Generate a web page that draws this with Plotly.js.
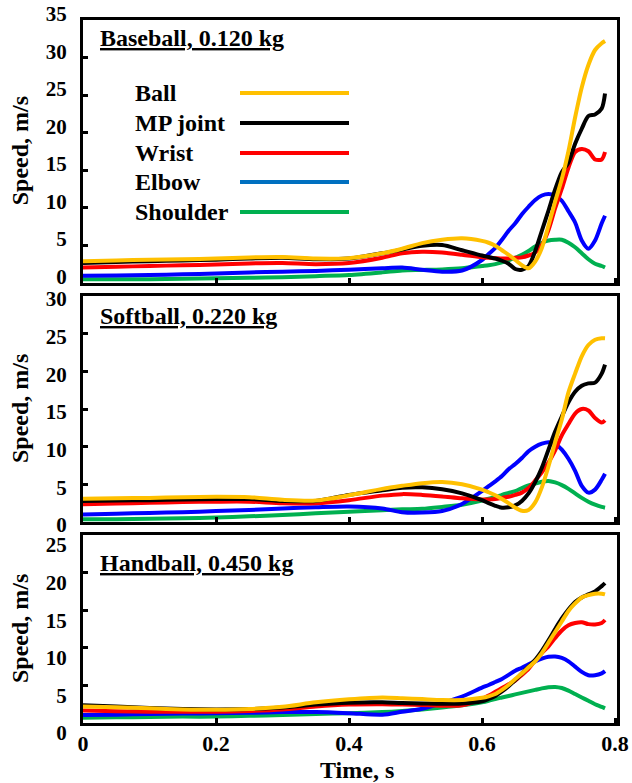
<!DOCTYPE html>
<html>
<head>
<meta charset="utf-8">
<script src="https://cdn.plot.ly/plotly-3.0.1.min.js"></script>
<style>html,body{margin:0;padding:0;background:#fff;}#chart{width:632px;height:783px;}</style>
</head>
<body>
<div id="chart"></div>
<script>
// ---- DATA ----
const time = [0,0.05,0.1,0.15,0.2,0.25,0.3,0.35,0.4,0.45,0.48,0.51,0.54,0.57,0.6,0.61,0.62,0.63,0.64,0.65,0.66,0.67,0.68,0.69,0.7,0.71,0.72,0.73,0.74,0.75,0.76,0.77,0.78,0.785];
const seriesNames = ["Ball","MP joint","Wrist","Elbow","Shoulder"];
const panelTitles = ["Baseball, 0.120 kg","Softball, 0.220 kg","Handball, 0.450 kg"];

// Baseball
const baseBall     = [2.85,2.95,3.05,3.1,3.2,3.35,3.4,3.2,3.25,3.9,4.5,5.25,5.7,5.9, 5.55,5.3,4.9,4.3,3.7,3.0,2.3,1.9,2.8,4.6,7.6,10.8,13.8,17.5,22.0,26.0,29.0,31.0,31.9,32.2];
const baseMP       = [2.6,2.75,2.85,2.95,3.05,3.2,3.3,3.1,3.2,3.9,4.4,4.9,5.0,4.3, 3.6,3.4,3.2,2.9,2.5,1.8,1.7,2.2,4.2,6.9,9.6,12.4,14.7,16.0,18.5,20.5,22.2,22.4,23.2,25.2];
const baseWrist    = [2.0,2.1,2.2,2.3,2.4,2.55,2.6,2.45,2.6,3.3,3.9,4.1,4.0,3.7, 3.35,3.3,3.25,3.2,3.2,3.3,3.35,3.6,4.0,5.0,7.0,9.9,12.5,15.3,17.4,17.8,17.5,16.4,16.4,17.4];
const baseElbow    = [0.9,0.95,1.0,1.1,1.2,1.35,1.45,1.55,1.7,1.9,2.0,1.7,1.45,1.6, 3.0,3.8,4.6,5.7,6.9,7.9,9.1,10.1,11.0,11.6,11.8,11.6,10.9,9.5,8.0,5.6,4.5,5.6,7.9,8.9];
const baseShoulder = [0.42,0.42,0.45,0.5,0.56,0.62,0.7,0.85,1.0,1.35,1.6,1.67,1.75,1.9, 2.2,2.3,2.45,2.7,2.95,3.3,3.7,4.2,4.8,5.3,5.6,5.7,5.7,5.3,4.7,3.9,3.1,2.5,2.2,2.0];

// Softball
const softBall     = [3.1,3.15,3.2,3.3,3.35,3.3,2.95,2.85,3.55,4.4,4.8,5.15,5.3,5.0, 4.3,3.95,3.55,3.05,2.5,1.9,1.5,1.6,2.6,4.6,7.4,10.6,13.6,17.2,19.7,22.0,23.5,24.2,24.4,24.4];
const softMP       = [2.8,2.85,2.9,3.0,3.05,3.05,2.8,2.8,3.6,4.2,4.55,4.6,4.35,3.8, 2.9,2.5,2.15,1.9,1.95,2.2,2.8,3.8,5.3,7.2,9.6,12.0,14.0,15.9,17.3,18.1,18.4,18.5,19.7,20.9];
const softWrist    = [2.35,2.45,2.55,2.65,2.7,2.7,2.5,2.5,2.9,3.5,3.7,3.6,3.4,3.15, 3.0,3.0,3.05,3.2,3.35,3.6,3.9,4.5,5.5,6.6,7.9,9.5,11.5,13.0,14.4,15.0,14.8,13.8,13.2,13.5];
const softElbow    = [1.0,1.1,1.2,1.3,1.45,1.6,1.8,1.95,2.05,1.8,1.3,1.25,1.45,2.4, 4.1,4.75,5.4,6.1,7.0,7.7,8.5,9.4,10.0,10.4,10.6,10.4,9.6,8.4,6.8,4.8,3.9,4.3,5.6,6.4];
const softShoulder = [0.35,0.38,0.42,0.5,0.6,0.75,0.93,1.15,1.37,1.55,1.68,1.75,2.0,2.3, 2.85,3.1,3.3,3.6,3.85,4.1,4.5,4.85,5.1,5.35,5.45,5.25,4.9,4.4,3.8,3.2,2.7,2.3,2.0,1.9];

// Handball
const handBall     = [2.2,2.1,1.95,1.8,1.75,1.85,2.15,2.75,3.15,3.4,3.3,3.18,3.06,3.06, 3.35,3.55,3.85,4.4,5.05,5.85,6.6,7.4,8.2,9.3,10.7,12.1,13.5,14.9,15.9,16.7,17.0,17.2,17.2,17.1];
const handMP       = [2.35,2.2,2.0,1.85,1.8,1.85,2.05,2.45,2.7,2.75,2.65,2.6,2.55,2.6, 2.9,3.2,3.6,4.2,4.9,5.7,6.6,7.5,8.4,9.6,11.0,12.5,13.9,15.1,16.1,16.7,17.1,17.5,18.2,18.6];
const handWrist    = [1.65,1.55,1.5,1.5,1.5,1.6,1.8,2.2,2.45,2.5,2.45,2.4,2.3,2.35, 3.2,3.65,4.15,4.65,5.15,5.65,6.4,7.2,8.3,9.3,10.2,11.3,12.3,13.0,13.3,13.4,13.15,13.1,13.3,13.7];
const handElbow    = [1.05,1.1,1.2,1.25,1.3,1.35,1.45,1.45,1.3,1.1,1.5,1.9,2.65,3.5, 4.7,5.05,5.45,5.85,6.4,6.95,7.35,7.8,8.2,8.55,8.8,8.85,8.65,8.2,7.5,6.8,6.35,6.35,6.6,6.9];
const handShoulder = [0.7,0.75,0.8,0.85,0.85,0.95,1.05,1.2,1.3,1.45,1.6,1.8,2.05,2.35, 2.75,2.95,3.2,3.4,3.6,3.8,4.0,4.2,4.4,4.6,4.75,4.8,4.65,4.3,3.85,3.4,2.95,2.5,2.15,1.95];

const yMax = [35, 30, 25];
const xTickVals = [0, 0.2, 0.4, 0.6, 0.8];

// ---- STYLE ----
const lineColors = ["#FFC000","#000000","#FF0000","#0000FF","#00B050"];
const legendColors = ["#FFC000","#000000","#FF0000","#0070C0","#00B050"];
const FONT = "Liberation Serif, Times New Roman, serif";

const panels = [
  [baseBall, baseMP, baseWrist, baseElbow, baseShoulder],
  [softBall, softMP, softWrist, softElbow, softShoulder],
  [handBall, handMP, handWrist, handElbow, handShoulder]
];

// layout geometry (pixels)
const W = 632, H = 783;
const mL = 83, mR = 15, mT = 20, mB = 60;
const plotH = H - mT - mB, plotW = W - mL - mR;
const pxY = y => (H - mB - y) / plotH;       // page y pixel -> paper
const pxX = x => (x - mL) / plotW;            // page x pixel -> paper
const domains = [[pxY(282.5), 1], [pxY(522), pxY(296)], [0, pxY(535)]];
const yLabelShift = [-6, 3, 10];   // positive = down on screen

const traces = [];
const order = [4,3,2,1,0]; // draw Ball last (on top)
panels.forEach((p, i) => {
  const ax = i === 0 ? '' : String(i + 1);
  order.forEach(k => {
    traces.push({
      x: time, y: p[k], type: 'scatter', mode: 'lines',
      name: seriesNames[k], showlegend: false,
      xaxis: 'x' + ax, yaxis: 'y' + ax,
      line: {color: lineColors[k], width: 4, shape: 'spline', smoothing: 0.8},
      hoverinfo: 'skip'
    });
  });
});

const xTickFont = {family: FONT, size: 22, color: '#000', weight: 'bold'};
const yTickFont = {family: FONT, size: 21, color: '#000', weight: 'bold'};
const layout = {
  width: W, height: H,
  margin: {l: mL, r: mR, t: mT, b: mB},
  paper_bgcolor: '#fff', plot_bgcolor: '#fff',
  showlegend: false,
  font: {family: FONT, color: '#000'},
  annotations: [], shapes: []
};

[0,1,2].forEach(i => {
  const ax = i === 0 ? '' : String(i + 1);
  layout['xaxis' + ax] = {
    domain: [0, 1], range: [0, 0.803], anchor: 'y' + ax,
    tickvals: xTickVals, ticktext: xTickVals.map(v => String(v)),
    ticks: 'inside', ticklen: 5, tickwidth: 3, tickcolor: '#000',
    showticklabels: i === 2, tickfont: xTickFont, ticklabelstandoff: -1,
    showline: true, mirror: true, linewidth: 3, linecolor: '#000',
    showgrid: false, zeroline: false, fixedrange: true
  };
  layout['yaxis' + ax] = {
    domain: domains[i], range: [0, yMax[i]], anchor: 'x' + ax,
    dtick: 5, tick0: 0,
    ticks: 'inside', ticklen: 5, tickwidth: 3, tickcolor: '#000',
    tickfont: yTickFont, ticklabelstandoff: 9, ticklabelshift: yLabelShift[i],
    showline: true, mirror: true, linewidth: 3, linecolor: '#000',
    showgrid: false, zeroline: false, fixedrange: true
  };
  // panel title
  layout.annotations.push({
    xref: 'paper', yref: 'paper', x: pxX(98), y: [pxY(38), pxY(316), pxY(563)][i],
    xanchor: 'left', yanchor: 'middle', showarrow: false,
    text: '<b><u>' + panelTitles[i] + '</u></b>',
    font: {family: FONT, size: 24, color: '#000'}
  });
  // y axis title
  layout.annotations.push({
    xref: 'paper', yref: 'paper', x: pxX(20), y: (domains[i][0] + domains[i][1]) / 2,
    xanchor: 'center', yanchor: 'middle', showarrow: false, textangle: -90,
    text: '<b>Speed, m/s</b>',
    font: {family: FONT, size: 24, color: '#000'}
  });
});

// x axis title
layout.annotations.push({
  xref: 'paper', yref: 'paper', x: pxX(357), y: pxY(770),
  xanchor: 'center', yanchor: 'middle', showarrow: false,
  text: '<b>Time, s</b>', font: {family: FONT, size: 24, color: '#000'}
});

// legend (text on the left, line sample on the right)
const legY = [93, 123, 153, 182, 212];
seriesNames.forEach((n, k) => {
  layout.annotations.push({
    xref: 'paper', yref: 'paper', x: pxX(133), y: pxY(legY[k]),
    xanchor: 'left', yanchor: 'middle', showarrow: false,
    text: '<b>' + n + '</b>', font: {family: FONT, size: 24, color: '#000'}
  });
  layout.shapes.push({
    type: 'line', xref: 'paper', yref: 'paper',
    x0: pxX(240), x1: pxX(349), y0: pxY(legY[k]), y1: pxY(legY[k]),
    line: {color: legendColors[k], width: 4}
  });
});

Plotly.newPlot('chart', traces, layout, {staticPlot: true, displayModeBar: false});
</script>
</body>
</html>
